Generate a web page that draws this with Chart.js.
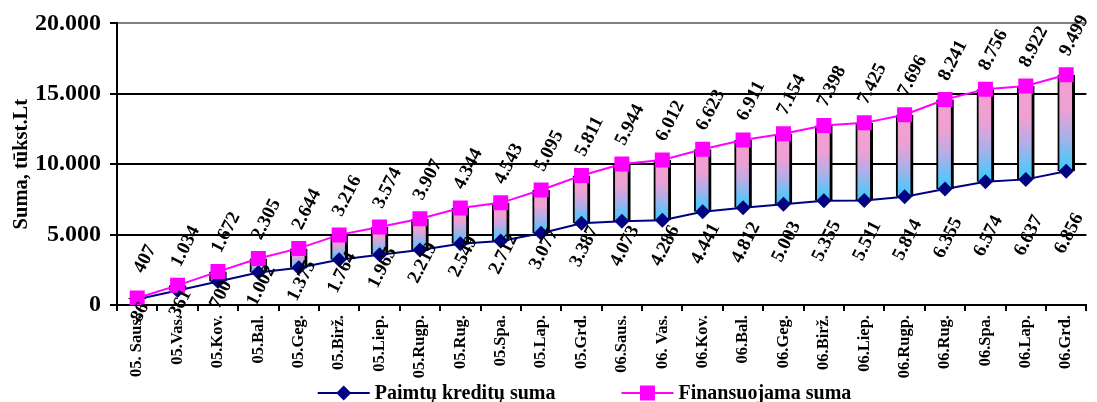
<!DOCTYPE html>
<html>
<head>
<meta charset="utf-8">
<script src="https://cdn.jsdelivr.net/npm/chart.js@4.4.1/dist/chart.umd.min.js"></script>
<style>
  html, body { margin: 0; padding: 0; background: #fff; }
  #wrap { width: 1097px; height: 402px; position: relative; }
</style>
</head>
<body>
<div id="wrap"><canvas id="c"></canvas></div>
<script>
// Mėnesiai
const menesiai = ["05. Saus.", "05.Vas.", "05.Kov.", "05.Bal.", "05.Geg.", "05.Birž.", "05.Liep.", "05.Rugp.",
  "05.Rug.", "05.Spa.", "05.Lap.", "05.Grd.", "06.Saus.", "06. Vas.", "06.Kov.", "06.Bal.", "06.Geg.",
  "06.Birž.", "06.Liep.", "06.Rugp.", "06.Rug.", "06.Spa.", "06.Lap.", "06.Grd."];

// Paimtų kreditų suma, tūkst. Lt
const kreditai = [407, 1034, 1672, 2305, 2644, 3216, 3574, 3907, 4344, 4543, 5095, 5811,
  5944, 6012, 6623, 6911, 7154, 7398, 7425, 7696, 8241, 8756, 8922, 9499];

// Finansuojama suma, tūkst. Lt
const finansuojama = [493, 1395, 2372, 3307, 4019, 4980, 5539, 6126, 6893, 7255, 8172, 9198,
  10017, 10298, 11064, 11723, 12157, 12753, 12936, 13510, 14596, 15330, 15559, 16355];

// Y ašies žymos
const yZymos = [0, 5000, 10000, 15000, 20000];

const SERIF = '"Liberation Serif", "Times New Roman", serif';

function fmt(v) {
  return String(v).replace(/\B(?=(\d{3})+(?!\d))/g, '.');
}

// Skaičių užrašai: kreditų suma virš taško, skirtumas po juo
const zymes = {
  id: 'zymes',
  afterDatasetsDraw(chart) {
    const c = chart.ctx;
    const mK = chart.getDatasetMeta(1).data;
    const mF = chart.getDatasetMeta(2).data;
    const ys = chart.scales.y;
    const rasyk = (t, x, y) => {
      c.save();
      c.translate(x, y);
      c.rotate(-63 * Math.PI / 180);
      c.fillText(t, 0, 0);
      c.restore();
    };
    c.save();
    c.font = 'bold 19px ' + SERIF;
    c.fillStyle = '#000';
    c.textAlign = 'center';
    c.textBaseline = 'middle';
    kreditai.forEach((k, i) => {
      const pk = mK[i], pf = mF[i];
      rasyk(fmt(k), pf.x + 8, pf.y - 39);
      const yApac = Math.max(pk.y + 13, ys.getPixelForValue(2700 + 0.25 * k));
      rasyk(fmt(finansuojama[i] - k), pk.x + 3, yApac);
    });
    c.restore();
  }
};

// Legenda: linija su žymekliu ir pavadinimas
const legenda = {
  id: 'legenda',
  afterDraw(chart) {
    const c = chart.ctx;
    const items = [chart.data.datasets[1], chart.data.datasets[2]];
    const lineW = 52, gap = 5, itemGap = 66, yC = 393;
    c.save();
    c.font = 'bold 20px ' + SERIF;
    c.textBaseline = 'middle';
    c.textAlign = 'left';
    const widths = items.map(d => c.measureText(d.label).width);
    const total = items.length * (lineW + gap) + widths.reduce((a, b) => a + b, 0) + itemGap * (items.length - 1);
    let x = 584.5 - total / 2;
    items.forEach((d, i) => {
      const cx = x + lineW / 2;
      c.strokeStyle = d.borderColor;
      c.lineWidth = d.borderWidth;
      c.beginPath();
      c.moveTo(x, yC);
      c.lineTo(x + lineW, yC);
      c.stroke();
      c.fillStyle = d.pointBackgroundColor;
      c.beginPath();
      const r = d.pointRadius;
      if (d.pointStyle === 'rect') {
        const s = r * Math.SQRT1_2;
        c.rect(cx - s, yC - s, 2 * s, 2 * s);
      } else {
        c.moveTo(cx - r, yC);
        c.lineTo(cx, yC - r);
        c.lineTo(cx + r, yC);
        c.lineTo(cx, yC + r);
        c.closePath();
      }
      c.fill();
      c.fillStyle = '#000';
      c.fillText(d.label, x + lineW + gap, yC + 1);
      x += lineW + gap + widths[i] + itemGap;
    });
    c.restore();
  }
};

function gradientas(ctx) {
  const chart = ctx.chart;
  if (!chart.chartArea || ctx.type !== 'data' || !ctx.raw) return '#c4a8e2';
  const ys = chart.scales.y;
  const top = ys.getPixelForValue(ctx.raw[1]);
  const bot = ys.getPixelForValue(ctx.raw[0]);
  const g = chart.ctx.createLinearGradient(0, top, 0, bot);
  g.addColorStop(0, '#f4a0cf');
  g.addColorStop(0.35, '#eea0d4');
  g.addColorStop(0.62, '#b2aee7');
  g.addColorStop(0.86, '#62c3f6');
  g.addColorStop(1, '#3ccaf9');
  return g;
}

Chart.defaults.font.family = SERIF;
Chart.defaults.color = '#000';

new Chart(document.getElementById('c'), {
  type: 'bar',
  data: {
    labels: menesiai,
    datasets: [
      {
        type: 'bar',
        label: 'Skirtumas',
        data: kreditai.map((k, i) => [k, finansuojama[i]]),
        backgroundColor: gradientas,
        borderColor: '#000',
        borderWidth: { left: 2, right: 3, top: 0, bottom: 0 },
        borderSkipped: false,
        barThickness: 17,
        order: 3
      },
      {
        type: 'line',
        label: 'Paimtų kreditų suma',
        data: kreditai,
        borderColor: '#000080',
        borderWidth: 2,
        pointStyle: 'rectRot',
        pointRadius: 7.5,
        pointBackgroundColor: '#000080',
        pointBorderWidth: 0,
        tension: 0,
        order: 2
      },
      {
        type: 'line',
        label: 'Finansuojama suma',
        data: finansuojama,
        borderColor: '#ff00ff',
        borderWidth: 2,
        pointStyle: 'rect',
        pointRadius: 10.6,
        pointBackgroundColor: '#ff00ff',
        pointBorderWidth: 0,
        tension: 0,
        order: 1
      }
    ]
  },
  options: {
    responsive: true,
    maintainAspectRatio: false,
    animation: false,
    layout: { padding: { top: 21, right: 3, bottom: 0, left: 0 } },
    plugins: {
      legend: { display: false },
      tooltip: { enabled: false }
    },
    scales: {
      x: {
        offset: true,
        grid: {
          display: true,
          offset: true,
          drawOnChartArea: false,
          drawTicks: true,
          tickLength: 6,
          color: '#000',
          lineWidth: 2
        },
        border: { display: true, color: '#000', width: 2 },
        ticks: {
          minRotation: 90,
          maxRotation: 90,
          autoSkip: false,
          padding: 4,
          font: { size: 16.5, weight: 'bold' }
        },
        afterFit(s) { s.height = 97; }
      },
      y: {
        min: 0,
        max: 20000,
        afterBuildTicks(s) { s.ticks = yZymos.map(v => ({ value: v })); },
        grid: {
          color: c => (c.tick && c.tick.value === 20000 ? '#808080' : '#000'),
          tickColor: '#000',
          lineWidth: 2,
          tickLength: 7
        },
        border: { display: true, color: '#000', width: 2 },
        ticks: {
          padding: 9,
          font: { size: 24, weight: 'bold' },
          callback: v => fmt(v)
        },
        title: {
          display: true,
          text: 'Suma, tūkst.Lt',
          font: { size: 20.5, weight: 'bold' },
          padding: { top: 9, bottom: 4 }
        },
        afterFit(s) { s.width = 117; }
      }
    }
  },
  plugins: [zymes, legenda]
});
</script>
</body>
</html>
